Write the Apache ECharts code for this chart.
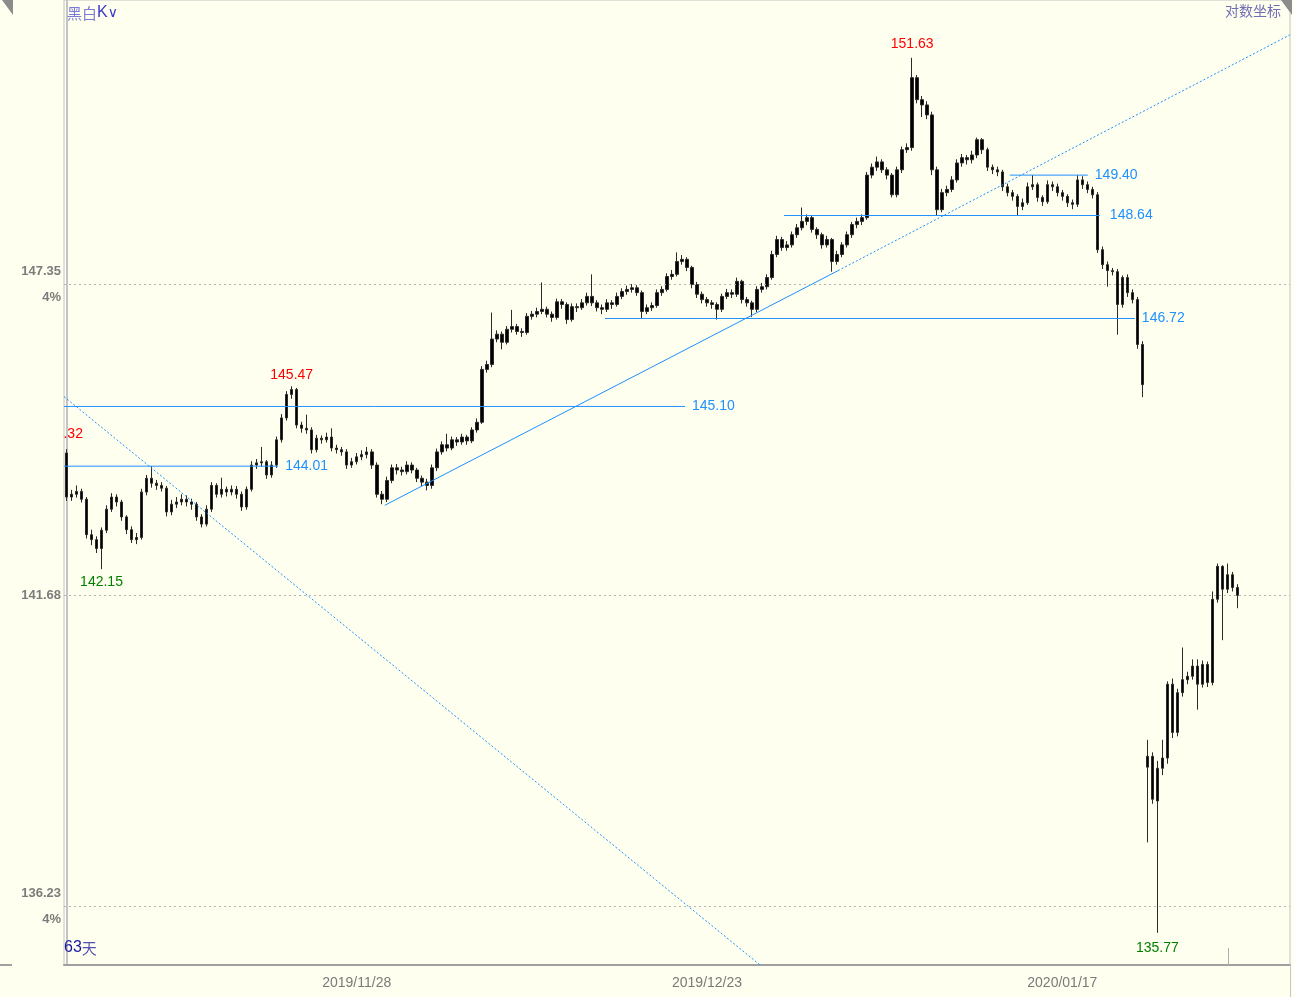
<!DOCTYPE html>
<html><head><meta charset="utf-8">
<script src="https://cdn.jsdelivr.net/npm/echarts@6/dist/echarts.min.js"></script>
<style>html,body{margin:0;padding:0;background:#FFFFF0;} #c{width:1294px;height:997px;}</style>
</head><body><div id="c"></div>
<script>
// ---- data (prices) ----
const opens = [
144.25,143.45,143.50,143.55,143.41,142.77,142.68,142.52,142.85,143.23,
143.45,143.36,143.09,142.86,142.68,142.72,143.54,143.79,143.70,143.66,
143.61,143.18,143.32,143.36,143.41,143.36,143.32,143.09,142.96,143.23,
143.66,143.50,143.59,143.54,143.59,143.50,143.27,143.59,144.03,144.07,
144.09,143.85,144.03,144.49,144.89,145.32,145.41,144.76,144.70,144.67,
144.31,144.52,144.49,144.54,144.34,144.31,144.27,144.03,144.09,144.18,
144.22,144.27,144.03,143.50,143.41,143.75,143.98,143.94,143.91,144.03,
143.94,143.79,143.72,143.66,143.98,144.27,144.40,144.34,144.49,144.45,
144.54,144.47,144.67,144.81,145.78,145.87,146.34,146.43,146.28,146.52,
146.57,146.48,146.46,146.76,146.80,146.85,146.89,146.80,146.74,147.03,
146.98,146.70,146.94,146.92,147.01,147.13,147.01,146.92,146.89,147.01,
146.98,147.13,147.22,147.26,147.29,147.20,146.85,146.92,146.96,147.20,
147.26,147.50,147.54,147.78,147.82,147.67,147.35,147.17,147.07,147.01,
146.98,146.89,147.13,147.20,147.17,147.41,147.07,147.01,146.89,147.26,
147.31,147.48,147.91,148.19,148.04,148.09,148.28,148.41,148.53,148.60,
148.38,148.28,148.09,148.19,147.78,147.91,148.09,148.28,148.47,148.53,
148.60,149.40,149.55,149.65,149.50,149.40,149.03,149.50,149.88,149.92,
151.25,150.83,150.73,150.54,149.50,148.75,149.07,149.13,149.31,149.63,
149.73,149.69,149.78,150.07,149.88,149.55,149.50,149.46,149.18,149.07,
149.00,148.81,148.88,149.18,149.22,148.98,148.90,149.22,149.18,149.07,
149.00,148.88,148.85,149.31,149.22,149.13,149.03,148.00,147.72,147.61,
147.59,146.98,147.48,147.20,147.07,146.24,138.64,138.83,138.05,138.62,
138.80,140.10,139.25,139.95,140.18,140.24,140.42,140.10,140.45,140.13,
141.61,142.20,141.79,142.05,141.82];
const closes = [
143.45,143.50,143.55,143.41,142.77,142.68,142.52,142.85,143.23,143.45,
143.36,143.09,142.86,142.68,142.72,143.54,143.79,143.70,143.66,143.61,
143.18,143.32,143.36,143.41,143.36,143.32,143.09,142.96,143.23,143.66,
143.50,143.59,143.54,143.59,143.50,143.27,143.59,144.03,144.07,144.09,
143.85,144.03,144.49,144.89,145.32,145.41,144.76,144.70,144.67,144.31,
144.52,144.49,144.54,144.34,144.31,144.27,144.03,144.09,144.18,144.22,
144.27,144.03,143.50,143.41,143.75,143.98,143.94,143.91,144.03,143.94,
143.79,143.72,143.66,143.98,144.27,144.40,144.34,144.49,144.45,144.54,
144.47,144.67,144.81,145.78,145.87,146.34,146.43,146.28,146.52,146.57,
146.48,146.46,146.76,146.80,146.85,146.89,146.80,146.74,147.03,146.98,
146.70,146.94,146.92,147.01,147.13,147.01,146.92,146.89,147.01,146.98,
147.13,147.22,147.26,147.29,147.20,146.85,146.92,146.96,147.20,147.26,
147.50,147.54,147.78,147.82,147.67,147.35,147.17,147.07,147.01,146.98,
146.89,147.13,147.20,147.17,147.41,147.07,147.01,146.89,147.26,147.31,
147.48,147.91,148.19,148.04,148.09,148.28,148.41,148.53,148.60,148.38,
148.28,148.09,148.19,147.78,147.91,148.09,148.28,148.47,148.53,148.60,
149.40,149.55,149.65,149.50,149.40,149.03,149.50,149.88,149.92,151.25,
150.83,150.73,150.54,149.50,148.75,149.07,149.13,149.31,149.63,149.73,
149.69,149.78,150.07,149.88,149.55,149.50,149.46,149.18,149.07,149.00,
148.81,148.88,149.18,149.22,148.98,148.90,149.22,149.18,149.07,149.00,
148.88,148.85,149.31,149.22,149.13,149.03,148.00,147.72,147.61,147.59,
146.98,147.48,147.20,147.07,146.24,145.50,138.83,138.08,138.62,138.80,
140.10,139.25,139.95,140.18,140.24,140.42,140.10,140.45,140.13,141.61,
142.20,141.79,142.05,141.82,141.68];
const lows = [
143.38,143.38,143.44,143.35,142.70,142.58,142.44,142.15,142.80,143.18,
143.28,143.02,142.78,142.62,142.60,142.68,143.48,143.62,143.58,143.55,
143.10,143.12,143.25,143.30,143.28,143.22,143.02,142.90,142.92,143.18,
143.44,143.44,143.46,143.48,143.42,143.20,143.22,143.55,143.96,144.00,
143.78,143.80,143.98,144.44,144.84,145.24,144.70,144.62,144.60,144.24,
144.26,144.42,144.44,144.28,144.24,144.20,143.96,143.98,144.04,144.12,
144.15,143.96,143.44,143.32,143.36,143.70,143.86,143.84,143.86,143.88,
143.72,143.65,143.57,143.60,143.92,144.22,144.28,144.30,144.38,144.40,
144.40,144.43,144.62,144.78,145.72,145.82,146.28,146.15,146.24,146.46,
146.42,146.38,146.42,146.70,146.74,146.80,146.74,146.66,146.70,146.90,
146.62,146.66,146.84,146.88,146.96,146.95,146.85,146.80,146.84,146.90,
146.94,147.08,147.16,147.20,147.14,146.72,146.80,146.86,146.92,147.14,
147.22,147.44,147.50,147.72,147.60,147.28,147.10,147.00,146.94,146.90,
146.70,146.84,147.08,147.10,147.12,147.00,146.94,146.75,146.84,147.20,
147.26,147.44,147.86,147.98,147.98,148.04,148.22,148.36,148.46,148.32,
148.20,148.02,148.04,147.59,147.72,147.86,148.04,148.22,148.40,148.46,
148.56,149.34,149.48,149.44,149.32,148.98,148.98,149.44,149.82,149.86,
150.76,150.50,150.46,149.40,148.64,148.70,149.00,149.08,149.26,149.56,
149.60,149.62,149.72,149.80,149.48,149.42,149.38,149.10,149.00,148.92,
148.64,148.74,148.84,149.12,148.90,148.82,148.86,149.10,149.00,148.92,
148.80,148.76,148.80,149.14,149.06,148.96,147.94,147.64,147.31,147.52,
146.42,146.92,147.12,147.00,146.16,145.27,137.33,138.00,135.77,138.50,
138.70,139.15,139.18,139.88,140.10,140.18,139.65,140.04,140.05,140.08,
141.55,140.88,141.72,141.75,141.45];
const highs = [
144.32,143.58,143.66,143.60,143.45,142.86,142.74,142.90,143.30,143.52,
143.50,143.40,143.12,142.92,142.80,143.60,143.85,144.01,143.76,143.72,
143.65,143.40,143.45,143.50,143.48,143.42,143.36,143.14,143.30,143.72,
143.70,143.80,143.64,143.66,143.65,143.55,143.64,144.10,144.14,144.36,
144.12,144.10,144.55,144.96,145.38,145.47,145.44,144.82,144.95,144.72,
144.58,144.57,144.62,144.70,144.40,144.36,144.32,144.16,144.25,144.30,
144.36,144.32,144.08,143.56,143.82,144.04,144.05,144.00,144.10,144.08,
143.98,143.84,143.78,144.04,144.33,144.46,144.60,144.55,144.54,144.60,
144.58,144.72,144.88,145.84,145.94,146.83,146.50,146.48,146.58,146.88,
146.62,146.54,146.82,146.86,146.92,147.39,146.94,146.85,147.09,147.08,
147.02,147.00,147.00,147.08,147.20,147.54,147.06,146.98,147.08,147.06,
147.20,147.28,147.33,147.36,147.34,147.24,146.98,147.02,147.26,147.32,
147.56,147.62,147.95,147.90,147.86,147.70,147.40,147.22,147.12,147.06,
147.02,147.18,147.27,147.26,147.48,147.44,147.12,147.05,147.32,147.38,
147.54,147.98,148.26,148.24,148.16,148.34,148.48,148.79,148.66,148.64,
148.42,148.32,148.26,148.22,147.98,148.14,148.34,148.52,148.60,148.66,
149.46,149.62,149.75,149.70,149.55,149.44,149.56,149.94,150.00,151.63,
151.30,150.90,150.80,150.60,149.56,149.14,149.20,149.38,149.70,149.80,
149.78,149.86,150.11,150.10,149.92,149.60,149.56,149.50,149.24,149.12,
149.04,148.96,149.26,149.40,149.26,149.02,149.30,149.28,149.24,149.12,
149.04,148.94,149.40,149.38,149.28,149.18,149.08,148.06,147.78,147.66,
147.64,147.52,147.54,147.26,147.12,146.30,139.12,138.90,138.75,139.12,
140.15,140.20,140.02,140.75,140.32,140.54,140.54,140.52,140.50,141.75,
142.25,142.22,142.25,142.10,141.88];

const slotCount = 245;                      // candle slots incl. empty space on the right
const dateTickIndex = [58, 128, 199];
const dateTickLabels = ['2019/11/28', '2019/12/23', '2020/01/17'];
const gridValues = [147.35, 141.68, 136.23];
const gridLabels = ['147.35\n4%', '141.68', '136.23\n4%'];
const yRange = [135.22, 152.74];

// drawn horizontal levels: price, first slot, last slot
const levelPrices = [145.10, 144.01, 149.40, 148.64, 146.72];
const levelFrom   = [-0.5, -0.5, 188.5, 143.4, 107.6];
const levelTo     = [123.6, 42.3, 204.1, 206.5, 213.5];
// trend lines (slot, price)
const trendUpSolid   = [[63.6, 143.30], [154.2, 147.61]];
const trendUpDotted  = [[154.2, 147.61], [244.5, 152.07]];
const trendDownDotted = [[-0.5, 145.28], [138.6, 135.22]];
// extreme labels
const extremeIdx   = [169, 45, 0, 7, 218];
const extremeVal   = [151.63, 145.47, 144.32, 142.15, 135.77];
const extremeSide  = ['top', 'top', 'top', 'bottom', 'bottom'];

// ---- chart ----
const FONT = "'Liberation Sans Narrow','Liberation Sans',Arial,sans-serif";
const BLUE = '#1E90FF';
const BG = '#FFFFF0';
const categories = Array.from({length: slotCount}, (_, i) => String(i));
const ohlc = opens.map((o, i) => [o, closes[i], lows[i], highs[i]]);

const series = [];
levelPrices.forEach((p, k) => {
  series.push({
    type: 'line', xAxisIndex: 1, yAxisIndex: 0, symbol: 'none', silent: true,
    data: [[levelFrom[k], p], [levelTo[k], p]],
    lineStyle: {color: BLUE, width: 1},
    endLabel: {show: true, formatter: p.toFixed(2), color: BLUE, fontFamily: FONT, fontSize: 14,
      distance: k === 3 ? 10 : 7}
  });
});
series.push({type: 'line', xAxisIndex: 1, symbol: 'none', silent: true, data: trendUpSolid,
  lineStyle: {color: BLUE, width: 1}});
series.push({type: 'line', xAxisIndex: 1, symbol: 'none', silent: true, data: trendUpDotted,
  lineStyle: {color: BLUE, width: 1, type: [2, 2]}});
series.push({type: 'line', xAxisIndex: 1, symbol: 'none', silent: true, data: trendDownDotted,
  lineStyle: {color: BLUE, width: 1, type: [2, 2]}});

series.push({
  type: 'candlestick', xAxisIndex: 0, yAxisIndex: 0, data: ohlc, barWidth: 3,
  itemStyle: {color: '#000', color0: '#000', borderColor: '#2a2a2a', borderColor0: '#2a2a2a', borderWidth: 1},
  markLine: {
    silent: true, symbol: ['none', 'none'], animation: false,
    lineStyle: {color: '#b4b4b4', type: [2, 3], width: 1},
    label: {position: 'start', color: '#7c7c7c', fontFamily: FONT, fontSize: 13, fontWeight: 'bold',
      lineHeight: 26, distance: 3},
    data: gridValues.map((v, k) => ({yAxis: v, label: {formatter: gridLabels[k]}}))
  },
  markPoint: {
    silent: true, animation: false, symbol: 'circle', symbolSize: 1,
    itemStyle: {color: 'rgba(0,0,0,0)'},
    data: extremeIdx.map((idx, k) => ({
      coord: [String(idx), extremeVal[k]], value: extremeVal[k],
      label: {show: true, position: extremeSide[k], formatter: extremeVal[k].toFixed(2),
        color: extremeSide[k] === 'top' ? '#FF0000' : '#008000', fontFamily: FONT, fontSize: 14,
        distance: [6, 4, 7, 6, 8][k], offset: k === 2 ? [-5, 0] : [0, 0]}
    }))
  }
});

const chart = echarts.init(document.getElementById('c'), null, {renderer: 'canvas'});
chart.setOption({
  animation: false,
  backgroundColor: BG,
  grid: {left: 64, right: 4, top: 0, bottom: 32, show: true, borderColor: '#c4c4c4', borderWidth: 1},
  xAxis: [{
    type: 'category', data: categories, boundaryGap: true,
    axisLine: {lineStyle: {color: '#a0a0a0', width: 2}},
    axisTick: {show: false}, splitLine: {show: false},
    axisLabel: {
      interval: (idx) => dateTickIndex.includes(idx),
      formatter: (val, idx) => { const k = dateTickIndex.indexOf(idx); return k >= 0 ? dateTickLabels[k] : ''; },
      color: '#7a7a7a', fontSize: 14, fontFamily: FONT, margin: 11
    }
  }, {
    type: 'value', min: -0.5, max: slotCount - 0.5, show: false
  }],
  yAxis: [{
    type: 'log', logBase: 10, min: yRange[0], max: yRange[1],
    axisLine: {show: true, lineStyle: {color: '#c4c4c4', width: 2}},
    axisTick: {show: false}, axisLabel: {show: false}, splitLine: {show: false}
  }],
  series: series,
  graphic: [
    {type: 'rect', shape: {x: 0, y: 422, width: 63, height: 24}, style: {fill: BG}, z: 100},
    {type: 'polygon', shape: {points: [[2, 0], [13, 0], [13, 15]]}, style: {fill: '#8c8c8c'}, z: 100},
    {type: 'polygon', shape: {points: [[1281, 0], [1292, 0], [1292, 15]]}, style: {fill: '#8c8c8c'}, z: 100},
    {type: 'text', left: 67, top: 5, z: 100, style: {
      text: '{a|黑白}{b|K}{c|∨}',
      rich: {
        a: {fill: '#7b7bd6', fontSize: 15, fontFamily: "'Noto Sans CJK SC'"},
        b: {fill: '#3a3ac8', fontSize: 16, fontFamily: FONT},
        c: {fill: '#3a3ac8', fontSize: 14, fontFamily: "'DejaVu Sans'"}
      }}},
    {type: 'text', right: 13, top: 4, z: 100, style: {
      text: '对数坐标', fill: '#6f6fb5', fontSize: 14, fontFamily: "'Noto Sans CJK SC'"}},
    {type: 'text', left: 64, top: 940, z: 100, style: {
      text: '{a|63}{b|天}',
      rich: {
        a: {fill: '#1a1aa0', fontSize: 16, fontFamily: FONT},
        b: {fill: '#5050b0', fontSize: 15, fontFamily: "'Noto Sans CJK SC'"}
      }}},
    {type: 'line', shape: {x1: 1228.5, y1: 948, x2: 1228.5, y2: 965}, style: {stroke: '#b0b0b0', lineWidth: 1}, z: 100},
    {type: 'line', shape: {x1: 0, y1: 965, x2: 12, y2: 965}, style: {stroke: '#a0a0a0', lineWidth: 2}, z: 100},
    {type: 'line', shape: {x1: 1290.5, y1: 965, x2: 1290.5, y2: 997}, style: {stroke: '#c4c4c4', lineWidth: 1}, z: 100}
  ]
});
</script></body></html>
